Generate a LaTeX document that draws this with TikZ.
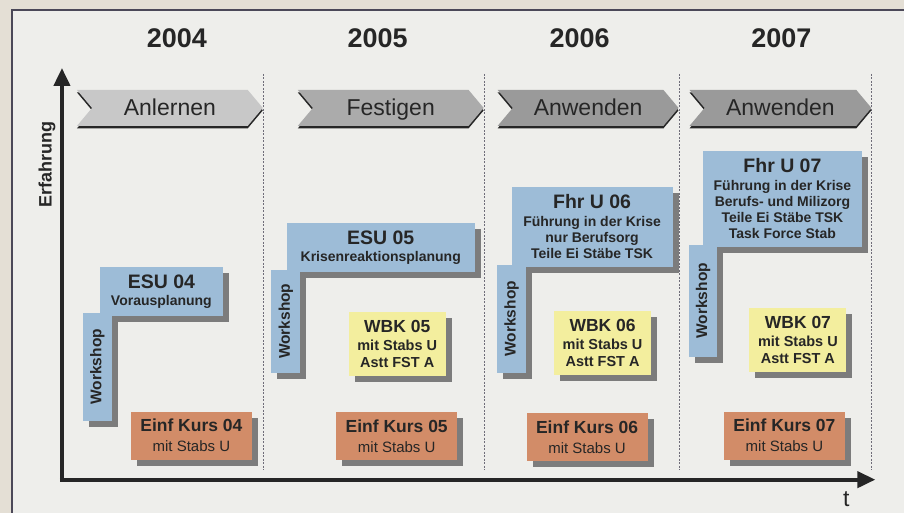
\documentclass[tikz,border=0pt]{standalone}
\usepackage{fontspec}
\setmainfont{Liberation Sans}
\usepackage{graphicx}
\usepackage{xcolor}
\usepackage{tikz}
\usetikzlibrary{positioning, arrows.meta, shapes, shadows}

\definecolor{paper}{HTML}{E4DFD5}
\definecolor{panel}{HTML}{EEEEEB}
\definecolor{frame}{HTML}{4B4858}
\definecolor{ink}{HTML}{262626}
\definecolor{shade}{HTML}{7C7C7C}
\definecolor{boxblue}{HTML}{9DBCD7}
\definecolor{boxyellow}{HTML}{F3EE9E}
\definecolor{boxorange}{HTML}{D28C68}
\definecolor{phaselight}{HTML}{C8C8C8}
\definecolor{phasemid}{HTML}{ABABAB}
\definecolor{phasedark}{HTML}{9A9A9A}

\newcommand{\boxhead}[1]{{\bfseries\fontsize{19.5}{20}\selectfont #1}}
\newcommand{\kurshead}[1]{{\bfseries\fontsize{17.5}{20}\selectfont #1}}

\begin{document}
\begin{tikzpicture}[
    x=1pt, y=-1pt,
    box_style/.style={inner sep=0pt, align=center, text=ink,
        drop shadow={shadow xshift=6pt, shadow yshift=-6pt, fill=shade, opacity=1}},
    blue_style/.style={box_style, fill=boxblue, font=\bfseries\fontsize{14}{16}\selectfont},
    shop_style/.style={blue_style, minimum width=29pt, font=\bfseries\fontsize{15.5}{16}\selectfont},
    wbk_style/.style={box_style, fill=boxyellow, minimum width=97pt, minimum height=64pt,
        font=\bfseries\fontsize{14.5}{17}\selectfont},
    kurs_style/.style={box_style, fill=boxorange, minimum width=121pt, minimum height=48pt,
        font=\fontsize{15}{20}\selectfont},
    phase_style/.style={signal, signal from=west, signal to=east, signal pointer angle=100,
        minimum height=36pt, inner sep=0pt, text=ink, font=\fontsize{23}{24}\selectfont,
        text height=18.5pt, text depth=2.5pt,
        drop shadow={shadow xshift=0pt, shadow yshift=-2.5pt, fill=ink, opacity=1}},
    year_style/.style={text=ink, font=\bfseries\fontsize{27}{28}\selectfont},
    axis_style/.style={ink, line width=4pt, -{Triangle[length=18pt, width=16pt]}},
    divider_style/.style={frame!80, line width=0.8pt, dash pattern=on 2pt off 1.5pt}
]
    % Background and frame
    \fill[paper] (0,0) rectangle (905,513);
    \fill[panel] (12,10) rectangle (905,513);
    \draw[frame, line width=1.3pt] (12,513) -- (12,10) -- (905,10);

    % Coordinates
    \coordinate (o) at (62,480);
    \coordinate (ytip) at (62,68);
    \coordinate (xtip) at (876,480);

    % Year columns
    \foreach \x in {264,485,680,872}
        \draw[divider_style] (\x,74) -- (\x,470);

    \node[year_style] (y04) at (177,38) {2004};
    \node[year_style] (y05) at (378,38) {2005};
    \node[year_style] (y06) at (580,38) {2006};
    \node[year_style] (y07) at (782,38) {2007};

    % Phases
    \node[phase_style, fill=phaselight, minimum width=186pt] (ph04) at (170,108) {Anlernen};
    \node[phase_style, fill=phasemid, minimum width=186pt] (ph05) at (391,108) {Festigen};
    \node[phase_style, fill=phasedark, minimum width=181pt] (ph06) at (588.5,108) {Anwenden};
    \node[phase_style, fill=phasedark, minimum width=182pt] (ph07) at (781,108) {Anwenden};

    % Axes
    \draw[axis_style] (o) -- (ytip);
    \draw[axis_style] ([xshift=-2pt]o) -- (xtip);
    \node[text=ink, rotate=90, font=\bfseries\fontsize{18}{18}\selectfont] (yl) at (47,165) {Erfahrung};
    \node[text=ink, font=\fontsize{23}{23}\selectfont] (xl) at (847,500) {t};

    % Stabs exercises with workshops
    \node[blue_style, minimum width=123pt, minimum height=49pt] (esu04) at (161.5,291.5)
        {\boxhead{ESU 04}\\[1pt]Vorausplanung};
    \node[shop_style, minimum height=108pt] (ws04) at (97.5,367) {\rotatebox{90}{Workshop}};

    \node[blue_style, minimum width=188pt, minimum height=49pt] (esu05) at (381,247.5)
        {\boxhead{ESU 05}\\[1pt]Krisenreaktionsplanung};
    \node[shop_style, minimum height=103pt] (ws05) at (286,321.5) {\rotatebox{90}{Workshop}};

    \node[blue_style, minimum width=161pt, minimum height=80pt] (fhr06) at (592.5,227)
        {\boxhead{Fhr U 06}\\[2pt]Führung in der Krise\\nur Berufsorg\\Teile Ei Stäbe TSK};
    \node[shop_style, minimum height=108pt] (ws06) at (512,319) {\rotatebox{90}{Workshop}};

    \node[blue_style, minimum width=160pt, minimum height=96pt] (fhr07) at (783,199)
        {\boxhead{Fhr U 07}\\[2pt]Führung in der Krise\\Berufs- und Milizorg\\Teile Ei Stäbe TSK\\Task Force Stab};
    \node[shop_style, minimum height=112pt] (ws07) at (703.5,301) {\rotatebox{90}{Workshop}};

    % WBK
    \node[wbk_style] (wbk05) at (397.5,344) {\kurshead{WBK 05}\\[1pt]mit Stabs U\\Astt FST A};
    \node[wbk_style] (wbk06) at (603,343.5) {\kurshead{WBK 06}\\[1pt]mit Stabs U\\Astt FST A};
    \node[wbk_style] (wbk07) at (798.5,340.5) {\kurshead{WBK 07}\\[1pt]mit Stabs U\\Astt FST A};

    % Einfuehrungskurse
    \node[kurs_style] (ek04) at (191.5,436) {\kurshead{Einf Kurs 04}\\mit Stabs U};
    \node[kurs_style] (ek05) at (397,436.5) {\kurshead{Einf Kurs 05}\\mit Stabs U};
    \node[kurs_style] (ek06) at (587.5,437.5) {\kurshead{Einf Kurs 06}\\mit Stabs U};
    \node[kurs_style] (ek07) at (785,436) {\kurshead{Einf Kurs 07}\\mit Stabs U};
\end{tikzpicture}
\end{document}
